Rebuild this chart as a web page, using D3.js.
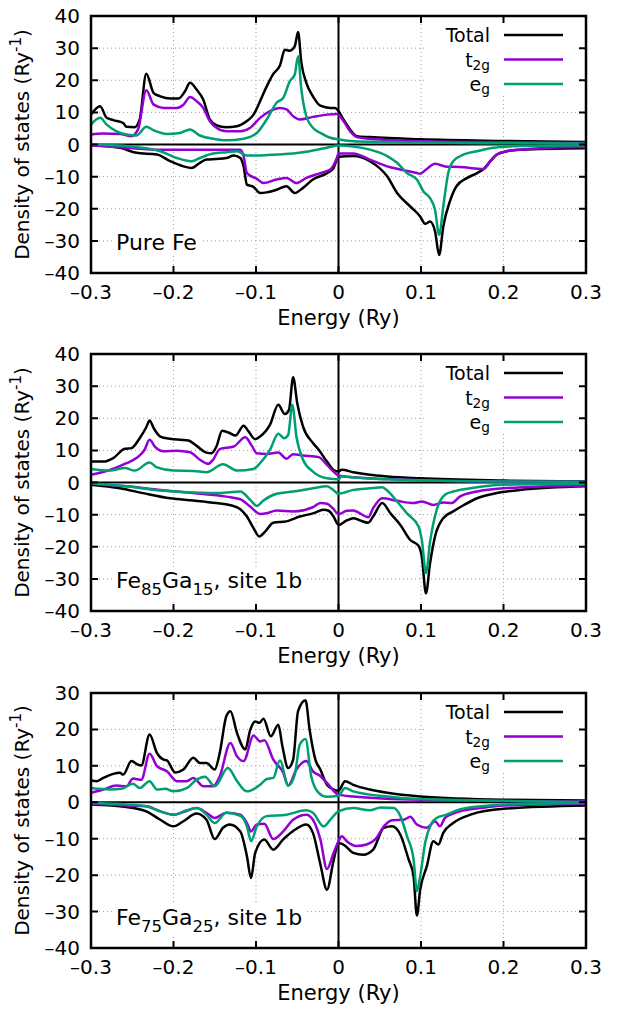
<!DOCTYPE html>
<html lang="en">
<head>
  <meta charset="UTF-8">
  <title>Density of states</title>
  <style>
    body { margin: 0; background: #fff; }
    text { font-family: 'DejaVu Sans', sans-serif; fill: #000; }
  </style>
</head>
<body>
  <script src="https://d3js.org/d3.v7.min.js"></script>
  <div id="chart"></div>

  <script>
    // [energy (Ry), DOS (Ry^-1)]
    // Pure Fe ==============================================================
    const feTotalUp = [[-0.300, 9.3], [-0.289, 11.9], [-0.281, 8.3], [-0.273, 7.6], [-0.261, 6.7], [-0.257, 5.5], [-0.247, 5.4], [-0.241, 7.8], [-0.233, 22.0], [-0.224, 16], [-0.216, 15], [-0.204, 14.3], [-0.194, 14.3], [-0.186, 16.6], [-0.180, 19.2], [-0.172, 17.1], [-0.164, 14], [-0.156, 7.8], [-0.148, 6], [-0.136, 5.4], [-0.123, 5.7], [-0.111, 7.3], [-0.103, 9.3], [-0.095, 13.5], [-0.087, 18.1], [-0.079, 22.0], [-0.071, 24.6], [-0.065, 29.5], [-0.059, 29.2], [-0.053, 30.6], [-0.049, 35], [-0.045, 25.4], [-0.039, 19.2], [-0.031, 15], [-0.022, 12.1], [-0.010, 11.4], [-0.004, 11.4], [0.000, 10.4], [0.006, 7.8], [0.014, 4.7], [0.022, 2.6], [0.038, 2.3], [0.100, 1.6], [0.200, 1.1], [0.300, 0.8]]
    const feT2gUp = [[-0.300, 3.1], [-0.285, 3.4], [-0.265, 3.3], [-0.251, 2.6], [-0.243, 4.7], [-0.233, 16.9], [-0.224, 12.4], [-0.212, 11.4], [-0.196, 11.4], [-0.188, 12.4], [-0.180, 14.8], [-0.172, 13.5], [-0.164, 11.4], [-0.156, 7.3], [-0.148, 5.2], [-0.136, 4.1], [-0.119, 4.1], [-0.107, 5.2], [-0.095, 8.3], [-0.083, 10.4], [-0.071, 11.4], [-0.063, 10.9], [-0.055, 8.8], [-0.047, 7.8], [-0.031, 8.6], [-0.014, 9.3], [-0.002, 9.5], [0.006, 7.3], [0.014, 4.1], [0.022, 2.3], [0.038, 1.8], [0.100, 1.0], [0.200, 0.7], [0.300, 0.5]]
    const feEgUp = [[-0.300, 6.2], [-0.289, 8.3], [-0.281, 6.2], [-0.269, 4.1], [-0.257, 3.1], [-0.245, 2.8], [-0.233, 5.5], [-0.224, 4.4], [-0.208, 3.3], [-0.192, 3.6], [-0.180, 4.7], [-0.168, 2.8], [-0.152, 1.8], [-0.136, 1.3], [-0.115, 1.8], [-0.099, 3.6], [-0.087, 7.8], [-0.075, 13], [-0.067, 14.5], [-0.059, 19.7], [-0.053, 21.8], [-0.049, 27.5], [-0.045, 17.1], [-0.039, 8.8], [-0.031, 5.2], [-0.022, 3.6], [-0.010, 2.1], [0.000, 1.6], [0.018, 1.0], [0.100, 0.6], [0.200, 0.4], [0.300, 0.3]]
    const feTotalDn = [[-0.300, -0.2], [-0.265, -1], [-0.245, -2.6], [-0.220, -3.1], [-0.204, -5.2], [-0.188, -6.8], [-0.178, -7.3], [-0.168, -5.7], [-0.160, -4.7], [-0.148, -4.5], [-0.136, -4.2], [-0.127, -3.4], [-0.119, -4.2], [-0.115, -6.8], [-0.111, -12.5], [-0.103, -13.2], [-0.095, -15.1], [-0.087, -14.9], [-0.075, -14.1], [-0.063, -13], [-0.053, -15.1], [-0.043, -13.5], [-0.031, -10.9], [-0.014, -8.9], [-0.006, -7.3], [0.000, -3.8], [0.018, -3.6], [0.038, -5.2], [0.059, -9.9], [0.071, -15.1], [0.087, -19.3], [0.099, -22.4], [0.105, -24.7], [0.111, -24], [0.117, -27], [0.122, -34.4], [0.127, -25.5], [0.135, -17.7], [0.143, -13], [0.156, -10.4], [0.168, -8.9], [0.176, -7.6], [0.184, -5.2], [0.192, -3.1], [0.204, -2.1], [0.220, -1.6], [0.300, -1.2]]
    const feT2gDn = [[-0.300, -0.2], [-0.257, -1], [-0.216, -1.6], [-0.119, -1.6], [-0.115, -3.6], [-0.111, -8.9], [-0.099, -10.7], [-0.091, -12], [-0.075, -10.9], [-0.063, -10.4], [-0.051, -12], [-0.039, -10.4], [-0.022, -8.9], [-0.010, -7.8], [-0.002, -4.2], [0.000, -2.8], [0.018, -2.8], [0.038, -4.7], [0.059, -6.8], [0.075, -7.8], [0.095, -8.9], [0.099, -9.1], [0.107, -7.6], [0.117, -6], [0.131, -6.9], [0.147, -7], [0.176, -7.6], [0.184, -5.2], [0.192, -3.1], [0.204, -2.1], [0.220, -1.6], [0.300, -0.7]]
    const feEgDn = [[-0.300, 0], [-0.257, -0.5], [-0.216, -2.1], [-0.196, -4.2], [-0.178, -5.2], [-0.168, -4.2], [-0.152, -2.8], [-0.136, -2.4], [-0.123, -2.1], [-0.111, -3.4], [-0.095, -3.4], [-0.075, -3.1], [-0.055, -2.8], [-0.035, -2.1], [-0.014, -1], [0.000, -0.3], [0.018, -0.6], [0.038, -1.6], [0.059, -3.6], [0.071, -5.7], [0.083, -8.9], [0.095, -10.9], [0.103, -14.6], [0.111, -16.7], [0.117, -20.3], [0.122, -28.1], [0.127, -19.3], [0.133, -8.9], [0.139, -5.2], [0.152, -3.1], [0.168, -2.1], [0.188, -1], [0.220, -0.5], [0.300, -0.2]]

    // Fe85Ga15, site 1b ====================================================
    const ga15TotalUp = [[-0.300, 6.5], [-0.285, 6.5], [-0.273, 7.6], [-0.259, 10.5], [-0.251, 10.7], [-0.241, 13.8], [-0.233, 17.2], [-0.229, 19.3], [-0.224, 16.9], [-0.216, 14.3], [-0.204, 13.6], [-0.192, 13.3], [-0.182, 13.1], [-0.172, 11.4], [-0.160, 9.3], [-0.154, 9.1], [-0.148, 11.2], [-0.141, 16.1], [-0.132, 15.4], [-0.125, 14.6], [-0.115, 17.7], [-0.109, 15.9], [-0.101, 13.5], [-0.095, 14.3], [-0.083, 18], [-0.073, 24.2], [-0.065, 21.3], [-0.060, 22.6], [-0.055, 32.8], [-0.050, 24.7], [-0.043, 17.4], [-0.031, 12.3], [-0.024, 10.2], [-0.014, 6.5], [-0.006, 3.9], [0.000, 3.4], [0.004, 4.0], [0.018, 3.2], [0.038, 2.4], [0.059, 1.9], [0.099, 1.3], [0.200, 0.6], [0.300, 0.3]]
    const ga15T2gUp = [[-0.300, 2.4], [-0.277, 3.9], [-0.257, 6], [-0.245, 7.6], [-0.235, 10.2], [-0.229, 13.3], [-0.222, 11], [-0.212, 9.7], [-0.196, 9.9], [-0.180, 9.4], [-0.168, 7.1], [-0.158, 5.8], [-0.152, 7.1], [-0.144, 10.4], [-0.127, 11.2], [-0.113, 14.1], [-0.105, 11.4], [-0.099, 9.1], [-0.087, 8.9], [-0.073, 9.3], [-0.063, 7.4], [-0.055, 8.8], [-0.043, 8.4], [-0.024, 7.9], [-0.014, 5.5], [-0.006, 3.4], [0.000, 2.2], [0.018, 1.6], [0.059, 1.1], [0.200, 0.3], [0.300, 0.2]]
    const ga15EgUp = [[-0.300, 4.2], [-0.277, 3.7], [-0.259, 4.5], [-0.247, 3.7], [-0.229, 6.2], [-0.220, 4.7], [-0.200, 3.7], [-0.176, 3.6], [-0.160, 3.2], [-0.140, 5.7], [-0.123, 3.7], [-0.103, 4.2], [-0.095, 6], [-0.083, 10.2], [-0.073, 15.2], [-0.066, 13.8], [-0.061, 14.8], [-0.056, 24.2], [-0.051, 14.3], [-0.043, 7.1], [-0.031, 3.4], [-0.014, 1.3], [0.000, 1.0], [0.004, 2.0], [0.010, 1.8], [0.059, 1.0], [0.200, 0.3], [0.300, 0.2]]
    const ga15TotalDn = [[-0.300, -0.7], [-0.265, -1.8], [-0.237, -3.3], [-0.204, -4.9], [-0.176, -5.6], [-0.148, -6.4], [-0.132, -7], [-0.119, -8.3], [-0.111, -10.6], [-0.103, -14.2], [-0.096, -16.8], [-0.089, -15.3], [-0.079, -12.5], [-0.063, -12.1], [-0.047, -10.6], [-0.031, -9.6], [-0.018, -8.5], [-0.012, -8.8], [-0.006, -10.6], [0.000, -13.2], [0.010, -11.8], [0.018, -11.1], [0.026, -11.8], [0.036, -12.5], [0.042, -10.6], [0.053, -6.4], [0.063, -9.6], [0.075, -13.2], [0.087, -17.9], [0.097, -19.7], [0.101, -23.1], [0.106, -34.5], [0.111, -25.1], [0.117, -16.8], [0.127, -11.1], [0.139, -9], [0.152, -7], [0.168, -4.9], [0.188, -3.5], [0.220, -2.3], [0.300, -1.2]]
    const ga15T2gDn = [[-0.300, -0.4], [-0.257, -1.2], [-0.216, -2.3], [-0.176, -3.3], [-0.136, -4.4], [-0.119, -5.2], [-0.107, -7.5], [-0.095, -9.8], [-0.087, -9.6], [-0.075, -8.7], [-0.055, -9], [-0.031, -7.7], [-0.022, -6.4], [-0.014, -6.6], [-0.006, -8.3], [0.000, -9.9], [0.010, -8.8], [0.018, -8.7], [0.026, -9.6], [0.036, -10.8], [0.042, -8], [0.053, -4.9], [0.071, -5.7], [0.091, -6.4], [0.101, -5.9], [0.115, -7], [0.127, -6.2], [0.137, -6.4], [0.147, -4.4], [0.168, -2.8], [0.200, -1.8], [0.300, -0.9]]
    const ga15EgDn = [[-0.300, -0.2], [-0.257, -1.2], [-0.216, -2.5], [-0.176, -3.1], [-0.144, -3.3], [-0.119, -2.8], [-0.107, -5.4], [-0.099, -7.3], [-0.091, -5.6], [-0.075, -3.5], [-0.055, -2.8], [-0.031, -1.8], [-0.014, -1.2], [-0.006, -2.4], [0.000, -3.5], [0.018, -2.3], [0.038, -1.8], [0.053, -1.5], [0.059, -2.5], [0.071, -5.9], [0.083, -9.6], [0.097, -13.7], [0.101, -17.9], [0.106, -28.2], [0.111, -18.4], [0.119, -8.5], [0.129, -3.8], [0.139, -2.8], [0.160, -1.8], [0.200, -0.7], [0.300, -0.4]]

    // Fe75Ga25, site 1b ====================================================
    const ga25TotalUp = [[-0.300, 6], [-0.293, 5.8], [-0.285, 6.7], [-0.273, 7.8], [-0.265, 8.1], [-0.261, 7.6], [-0.251, 11.3], [-0.243, 10.3], [-0.239, 10.1], [-0.229, 18.6], [-0.220, 13.5], [-0.212, 11.7], [-0.208, 11.5], [-0.198, 8.2], [-0.188, 9], [-0.176, 12.2], [-0.168, 10.8], [-0.160, 10.8], [-0.150, 9], [-0.144, 13.5], [-0.136, 23.6], [-0.131, 25], [-0.123, 19], [-0.113, 14.5], [-0.107, 19.9], [-0.101, 22.2], [-0.096, 21.8], [-0.091, 22.9], [-0.082, 18.1], [-0.073, 21.3], [-0.068, 15.4], [-0.061, 9.4], [-0.055, 11.7], [-0.049, 25], [-0.040, 28], [-0.035, 19.9], [-0.028, 11.7], [-0.022, 9], [-0.014, 4.8], [-0.006, 3.5], [0.000, 3.2], [0.008, 5.8], [0.018, 4.8], [0.038, 3.5], [0.059, 2.6], [0.099, 1.6], [0.200, 0.7], [0.300, 0.5]]
    const ga25T2gUp = [[-0.300, 2.6], [-0.285, 3.5], [-0.269, 4.6], [-0.257, 4.4], [-0.249, 6.5], [-0.239, 6.2], [-0.229, 13.3], [-0.220, 9.9], [-0.208, 8.5], [-0.196, 5.8], [-0.184, 5.8], [-0.176, 6.7], [-0.164, 4.4], [-0.152, 4.4], [-0.144, 7.1], [-0.131, 16.3], [-0.123, 12.6], [-0.115, 11.3], [-0.103, 18.3], [-0.095, 16.7], [-0.090, 17], [-0.079, 11.7], [-0.067, 8.1], [-0.061, 4.6], [-0.051, 9], [-0.039, 11.3], [-0.031, 8.5], [-0.022, 7.2], [-0.014, 5.3], [0.000, 2.1], [0.018, 1.6], [0.099, 0.7], [0.300, 0.2]]
    const ga25EgUp = [[-0.300, 3.9], [-0.277, 3.5], [-0.263, 3.7], [-0.249, 5.1], [-0.241, 3.9], [-0.229, 5.8], [-0.220, 3.5], [-0.210, 3.7], [-0.200, 3], [-0.184, 3.9], [-0.172, 6.2], [-0.162, 7], [-0.150, 4.4], [-0.134, 9.4], [-0.123, 5.8], [-0.111, 3], [-0.095, 4.8], [-0.087, 6.4], [-0.079, 6.7], [-0.071, 11.5], [-0.061, 4.6], [-0.053, 7.6], [-0.047, 15.8], [-0.040, 17.4], [-0.033, 7.1], [-0.024, 2.6], [-0.014, 1.5], [0.000, 1.8], [0.008, 3.9], [0.018, 3.0], [0.059, 1.6], [0.099, 0.9], [0.300, 0.1]]
    const ga25TotalDn = [[-0.300, -0.6], [-0.257, -1.3], [-0.233, -2.5], [-0.216, -4.8], [-0.200, -6.6], [-0.188, -5.2], [-0.172, -3.1], [-0.160, -4.8], [-0.150, -10.1], [-0.140, -7], [-0.132, -6.1], [-0.119, -8], [-0.111, -14.8], [-0.106, -20.8], [-0.101, -13.9], [-0.090, -10.2], [-0.079, -13], [-0.067, -10.2], [-0.055, -7.9], [-0.039, -6.1], [-0.031, -8.4], [-0.022, -17], [-0.014, -24], [-0.006, -16], [0.000, -11.2], [0.006, -11.6], [0.018, -13.9], [0.030, -14.4], [0.042, -13], [0.055, -7], [0.065, -6.6], [0.075, -8.9], [0.085, -15.7], [0.091, -20.3], [0.095, -31.1], [0.099, -24], [0.107, -17.6], [0.115, -10.7], [0.121, -11.6], [0.127, -8.4], [0.139, -5.7], [0.160, -3.4], [0.200, -1.8], [0.300, -0.9]]
    const ga25T2gDn = [[-0.300, -0.4], [-0.257, -0.9], [-0.233, -1.1], [-0.216, -2.5], [-0.200, -3.4], [-0.188, -2.7], [-0.172, -1.6], [-0.160, -2.9], [-0.150, -4.3], [-0.136, -2.9], [-0.119, -3.4], [-0.111, -5.7], [-0.106, -8], [-0.099, -6.1], [-0.090, -5.9], [-0.079, -10.1], [-0.067, -8], [-0.055, -4.8], [-0.039, -3.4], [-0.031, -4.8], [-0.022, -10.2], [-0.014, -18.3], [-0.006, -13.9], [0.000, -10.7], [0.004, -9.3], [0.010, -10.7], [0.022, -12], [0.034, -11.6], [0.046, -9.8], [0.055, -6.6], [0.065, -4.9], [0.079, -4.8], [0.087, -4], [0.095, -6.1], [0.107, -7], [0.117, -5.2], [0.123, -6.6], [0.129, -4.3], [0.147, -2.5], [0.172, -1.6], [0.200, -0.9], [0.300, -0.4]]
    const ga25EgDn = [[-0.300, -0.2], [-0.257, -0.6], [-0.233, -1.1], [-0.216, -2.5], [-0.200, -3.4], [-0.184, -2.2], [-0.172, -1.6], [-0.160, -3.4], [-0.150, -5.7], [-0.136, -2.9], [-0.119, -3.7], [-0.111, -6.6], [-0.106, -10.7], [-0.099, -6.6], [-0.087, -3.8], [-0.063, -3.4], [-0.039, -2.2], [-0.031, -2.9], [-0.018, -6.6], [-0.010, -4.8], [0.000, -2.5], [0.018, -1.6], [0.038, -2.2], [0.051, -1.4], [0.067, -1.6], [0.075, -3.8], [0.083, -9.3], [0.091, -15.7], [0.095, -24.4], [0.099, -20.3], [0.105, -11.2], [0.113, -5.7], [0.119, -4.3], [0.131, -3.4], [0.147, -2], [0.172, -1.1], [0.200, -0.6], [0.300, -0.2]]

    const xTicks = [-0.3, -0.2, -0.1, 0, 0.1, 0.2, 0.3]
    const legendNames = [[{t: 'Total'}], [{t: 't'}, {t: '2g', sub: true}], [{t: 'e'}, {t: 'g', sub: true}]]
    const colours = ['#000000', '#9400d3', '#009e73']

    const panels = [
      {top: 16, bottom: 273, yDomain: [-40, 40], label: [{t: 'Pure Fe'}],
       curves: [feTotalUp, feT2gUp, feEgUp, feTotalDn, feT2gDn, feEgDn]},
      {top: 354, bottom: 611, yDomain: [-40, 40], label: [{t: 'Fe'}, {t: '85', sub: true}, {t: 'Ga'}, {t: '15', sub: true}, {t: ', site 1b'}],
       curves: [ga15TotalUp, ga15T2gUp, ga15EgUp, ga15TotalDn, ga15T2gDn, ga15EgDn]},
      {top: 693, bottom: 948, yDomain: [-40, 30], label: [{t: 'Fe'}, {t: '75', sub: true}, {t: 'Ga'}, {t: '25', sub: true}, {t: ', site 1b'}],
       curves: [ga25TotalUp, ga25T2gUp, ga25EgUp, ga25TotalDn, ga25T2gDn, ga25EgDn]}
    ]

    const left = 91, right = 586
    const fs = 20

    const svg = d3.select('#chart')
      .append('svg')
      .attr('width', 618)
      .attr('height', 1011)

    // tick label: en dash for negative numbers, like the original
    const fmt = v => (v < 0 ? '\u2013' : '') + Math.abs(v)

    // writes plain / subscript / superscript parts into a text element
    function rich(textSel, parts, size, subShift = 0.3, small = 0.75) {
      let shift = 0
      parts.forEach(p => {
        const target = p.sub ? size * subShift : p.sup ? -size * 0.4 : 0
        textSel.append('tspan')
          .attr('dy', target - shift)
          .attr('font-size', p.sub || p.sup ? size * small : size)
          .text(p.t)
        shift = target
      })
    }

    const x = d3.scaleLinear().domain([-0.3, 0.3]).range([left, right])

    panels.forEach(p => {
      const y = d3.scaleLinear().domain(p.yDomain).range([p.bottom, p.top])
      const yTicks = d3.range(p.yDomain[0], p.yDomain[1] + 1, 10)
      const g = svg.append('g')

      // grid ===============================================================
      g.selectAll('.vgrid')
        .data(xTicks.filter(t => t > -0.3 && t < 0.3 && t !== 0))
        .join('line')
        .attr('x1', d => x(d)).attr('x2', d => x(d))
        .attr('y1', p.top).attr('y2', p.bottom)
        .attr('stroke', '#a0a0a0').attr('stroke-width', 1)
        .attr('stroke-dasharray', '1,3')
      g.selectAll('.hgrid')
        .data(yTicks.filter(t => t > p.yDomain[0] && t < p.yDomain[1] && t !== 0))
        .join('line')
        .attr('x1', left).attr('x2', right)
        .attr('y1', d => y(d)).attr('y2', d => y(d))
        .attr('stroke', '#a0a0a0').attr('stroke-width', 1)
        .attr('stroke-dasharray', '1,3')

      // zero lines
      g.append('line')
        .attr('x1', left).attr('x2', right)
        .attr('y1', y(0)).attr('y2', y(0))
        .attr('stroke', '#000').attr('stroke-width', 2)
      g.append('line')
        .attr('x1', x(0)).attr('x2', x(0))
        .attr('y1', p.top).attr('y2', p.bottom)
        .attr('stroke', '#000').attr('stroke-width', 2)

      // curves =============================================================
      const line = d3.line()
        .x(d => x(d[0]))
        .y(d => y(d[1]))
        .curve(d3.curveMonotoneX)
      g.selectAll('.curve')
        .data(p.curves)
        .join('path')
        .attr('d', line)
        .attr('fill', 'none')
        .attr('stroke', (d, i) => colours[i % 3])
        .attr('stroke-width', 2.5)
        .attr('stroke-linejoin', 'round')

      // legend (opaque box) ================================================
      g.append('rect')
        .attr('x', 424).attr('y', p.top + 2)
        .attr('width', right - 424 - 2).attr('height', 78)
        .attr('fill', '#fff')
      legendNames.forEach((name, i) => {
        const ly = p.top + 19 + i * 24.5
        rich(g.append('text')
          .attr('x', 490).attr('y', ly + 7)
          .attr('text-anchor', 'end')
          .attr('font-size', 19), name, 19, 0.18, 0.72)
        g.append('line')
          .attr('x1', 504).attr('x2', 563)
          .attr('y1', ly).attr('y2', ly)
          .attr('stroke', colours[i]).attr('stroke-width', 2.5)
      })

      // panel label with white background
      const lab = g.append('text')
        .attr('x', 116).attr('y', p.bottom - 23)
        .attr('font-size', 22)
      rich(lab, p.label, 22)
      const bb = lab.node().getBBox()
      g.insert('rect', 'text:last-of-type')
        .attr('x', bb.x - 3).attr('y', bb.y)
        .attr('width', bb.width + 6).attr('height', bb.height)
        .attr('fill', '#fff')
      lab.raise()

      // frame and ticks ====================================================
      g.append('rect')
        .attr('x', left).attr('y', p.top)
        .attr('width', right - left).attr('height', p.bottom - p.top)
        .attr('fill', 'none').attr('stroke', '#000').attr('stroke-width', 2.5)
      g.selectAll('.xt')
        .data(xTicks)
        .join('path')
        .attr('d', d => `M${x(d)},${p.bottom}v-7M${x(d)},${p.top}v7`)
        .attr('stroke', '#000').attr('stroke-width', 2)
      g.selectAll('.yt')
        .data(yTicks)
        .join('path')
        .attr('d', d => `M${left},${y(d)}h7M${right},${y(d)}h-7`)
        .attr('stroke', '#000').attr('stroke-width', 2)

      // tick labels
      g.selectAll('.xl')
        .data(xTicks)
        .join('text')
        .attr('x', d => x(d)).attr('y', p.bottom + 26)
        .attr('text-anchor', 'middle')
        .attr('font-size', fs)
        .text(fmt)
      g.selectAll('.yl')
        .data(yTicks)
        .join('text')
        .attr('x', 80).attr('y', d => y(d) + 7)
        .attr('text-anchor', 'end')
        .attr('font-size', fs)
        .text(fmt)

      // axis titles
      g.append('text')
        .attr('x', (left + right) / 2).attr('y', p.bottom + 52)
        .attr('text-anchor', 'middle')
        .attr('font-size', 21)
        .text('Energy (Ry)')
      const yt = g.append('text')
        .attr('transform', `translate(29,${(p.top + p.bottom) / 2}) rotate(-90)`)
        .attr('text-anchor', 'middle')
        .attr('font-size', fs)
      rich(yt, [{t: 'Density of states (Ry'}, {t: '-1', sup: true}, {t: ')'}], fs)
    })
  </script>
</body>
</html>
